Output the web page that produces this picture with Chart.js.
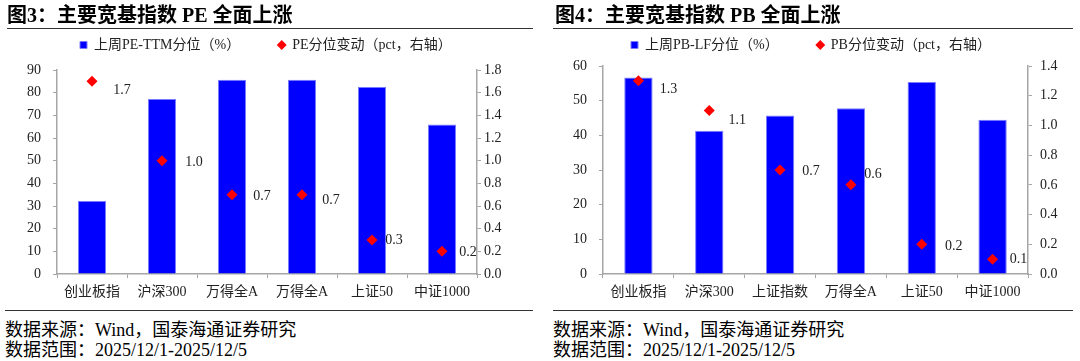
<!DOCTYPE html>
<html><head><meta charset="utf-8">
<script src="https://cdn.jsdelivr.net/npm/chart.js@4/dist/chart.umd.min.js"></script>
<style>
body{margin:0;width:1080px;height:361px;background:#fff;overflow:hidden;position:relative;font-family:"Liberation Serif","Noto Sans CJK SC",serif;color:#000;}
.title{position:absolute;top:3px;font-size:20px;line-height:24px;font-weight:bold;white-space:nowrap;z-index:2;}
.rule{position:absolute;height:0;border-top:1.5px solid #333;z-index:2;}
.foot{position:absolute;font-size:18px;line-height:20px;white-space:nowrap;z-index:2;}
canvas{position:absolute;top:0;z-index:1;}
</style></head>
<body>
<div class="title" style="left:7px">图3：主要宽基指数 PE 全面上涨</div>
<div class="rule" style="left:7px;width:526px;top:28px"></div>
<div class="title" style="left:555px">图4：主要宽基指数 PB 全面上涨</div>
<div class="rule" style="left:553px;width:520px;top:28px"></div>
<canvas id="c1" width="540" height="305" style="left:0"></canvas>
<canvas id="c2" width="540" height="305" style="left:540px"></canvas>
<div class="rule" style="left:5px;width:528px;top:310px"></div>
<div class="rule" style="left:553px;width:520px;top:310px"></div>
<div class="foot" style="left:5px;top:320px">数据来源：Wind，国泰海通证券研究</div>
<div class="foot" style="left:5px;top:340px">数据范围：2025/12/1-2025/12/5</div>
<div class="foot" style="left:553px;top:320px">数据来源：Wind，国泰海通证券研究</div>
<div class="foot" style="left:553px;top:340px">数据范围：2025/12/1-2025/12/5</div>
<script>
// ---- data ----
const peCategories = ['创业板指','沪深300','万得全A','万得全A','上证50','中证1000'];
const pePercentile = [32.2, 77.2, 85.7, 85.7, 82.5, 66.0];
const peChange = [1.7, 1.0, 0.7, 0.7, 0.3, 0.2];
const peLeftTicks = {min:0, max:90, step:10};
const peRightTicks = {min:0, max:1.8, step:0.2};

const pbCategories = ['创业板指','沪深300','上证指数','万得全A','上证50','中证1000'];
const pbPercentile = [56.7, 41.3, 45.7, 47.8, 55.4, 44.5];
const pbChange = [1.3, 1.1, 0.7, 0.6, 0.2, 0.1];
const pbLeftTicks = {min:0, max:60, step:10};
const pbRightTicks = {min:0, max:1.4, step:0.2};

// ---- styles (label placement offsets, px) ----
const peLabelOffsets = [[30,9],[32,2],[30,2],[29,6],[22,0],[26,1]];
const pbLabelOffsets = [[30,8],[28,10],[31,1],[22,-11],[32,2],[26,0]];

const AXIS = '#a6a6a6';
const FONT = '"Liberation Serif","Noto Sans CJK SC",serif';
const LEGEND_PAD = 38;

const dotLabels = {
  id:'dotLabels',
  afterDatasetsDraw(chart, args, opts){
    const meta = chart.getDatasetMeta(1);
    const ds = chart.data.datasets[1];
    const ctx = chart.ctx;
    ctx.save();
    ctx.font = '14px ' + FONT;
    ctx.fillStyle = '#222';
    ctx.textAlign = 'center';
    ctx.textBaseline = 'middle';
    meta.data.forEach((pt, i) => {
      const o = opts.offsets[i];
      ctx.fillText(ds.data[i].toFixed(1), pt.x + o[0], pt.y + o[1]);
    });
    ctx.restore();
  }
};

function makeChart(id, cats, bars, dots, barName, dotName, lt, rt, offsets, g){
  const legendHeight = g.top;
  const fixLegend = {
    id:'fixLegend',
    beforeInit(chart){
      const lg = chart.legend;
      if (!lg) return;
      const fit = lg.fit;
      lg.fit = function(){ fit.call(this); this.height = legendHeight; };
    },
    afterLayout(chart){
      const lg = chart.legend;
      if (!lg) return;
      lg.left = g.lx - LEGEND_PAD;
      lg.right = chart.width;
    }
  };
  return new Chart(document.getElementById(id), {
    data:{
      labels:cats,
      datasets:[
        {type:'bar', label:barName, data:bars, yAxisID:'y', backgroundColor:'#0000ff',
         borderColor:'#7b7bff', borderWidth:1, barPercentage:0.4, categoryPercentage:1,
         pointStyle:'rect', order:2},
        {type:'line', label:dotName, data:dots, yAxisID:'y1', showLine:false,
         pointStyle:'rectRot', pointRadius:5.5, pointHoverRadius:5.5,
         backgroundColor:'#ff0000', borderColor:'#ff0000', borderWidth:0, order:1}
      ]
    },
    options:{
      responsive:false, animation:false,
      layout:{padding:0},
      plugins:{
        legend:{display:true, position:'top', align:'start',
          labels:{usePointStyle:true, boxWidth:7, boxHeight:7, padding:LEGEND_PAD,
            sort:(a,b) => a.datasetIndex - b.datasetIndex,
            color:'#222', font:{family:FONT, size:14}}},
        tooltip:{enabled:false},
        dotLabels:{offsets:offsets}
      },
      scales:{
        x:{type:'category', offset:true,
          grid:{offset:true, drawOnChartArea:false, drawTicks:true, tickLength:4, color:AXIS},
          border:{color:AXIS, width:1.5},
          ticks:{color:'#222', font:{family:FONT, size:14}, padding:6, maxRotation:0, autoSkip:false},
          afterFit(s){ s.height = 31; }
        },
        y:{position:'left', min:lt.min, max:lt.max,
          grid:{drawOnChartArea:false, tickLength:4, color:AXIS},
          border:{color:AXIS, width:1.5},
          ticks:{stepSize:lt.step, color:'#222', font:{family:FONT, size:14}, padding:g.lp},
          afterFit(s){ s.width = g.left; }
        },
        y1:{position:'right', min:rt.min, max:rt.max,
          grid:{drawOnChartArea:false, tickLength:4, color:AXIS},
          border:{color:AXIS, width:1.5},
          ticks:{stepSize:rt.step, color:'#222', font:{family:FONT, size:14}, padding:g.rp,
            callback:v => Number(v).toFixed(1)},
          afterFit(s){ s.width = g.right; }
        }
      }
    },
    plugins:[fixLegend, dotLabels]
  });
}

makeChart('c1', peCategories, pePercentile, peChange,
  '上周PE-TTM分位（%）', 'PE分位变动（pct，右轴）',
  peLeftTicks, peRightTicks, peLabelOffsets, {top:70, left:57, right:63, lp:12, rp:3, lx:80});
makeChart('c2', pbCategories, pbPercentile, pbChange,
  '上周PB-LF分位（%）', 'PB分位变动（pct，右轴）',
  pbLeftTicks, pbRightTicks, pbLabelOffsets, {top:66, left:63, right:52, lp:12, rp:8, lx:91});
</script>
</body></html>
